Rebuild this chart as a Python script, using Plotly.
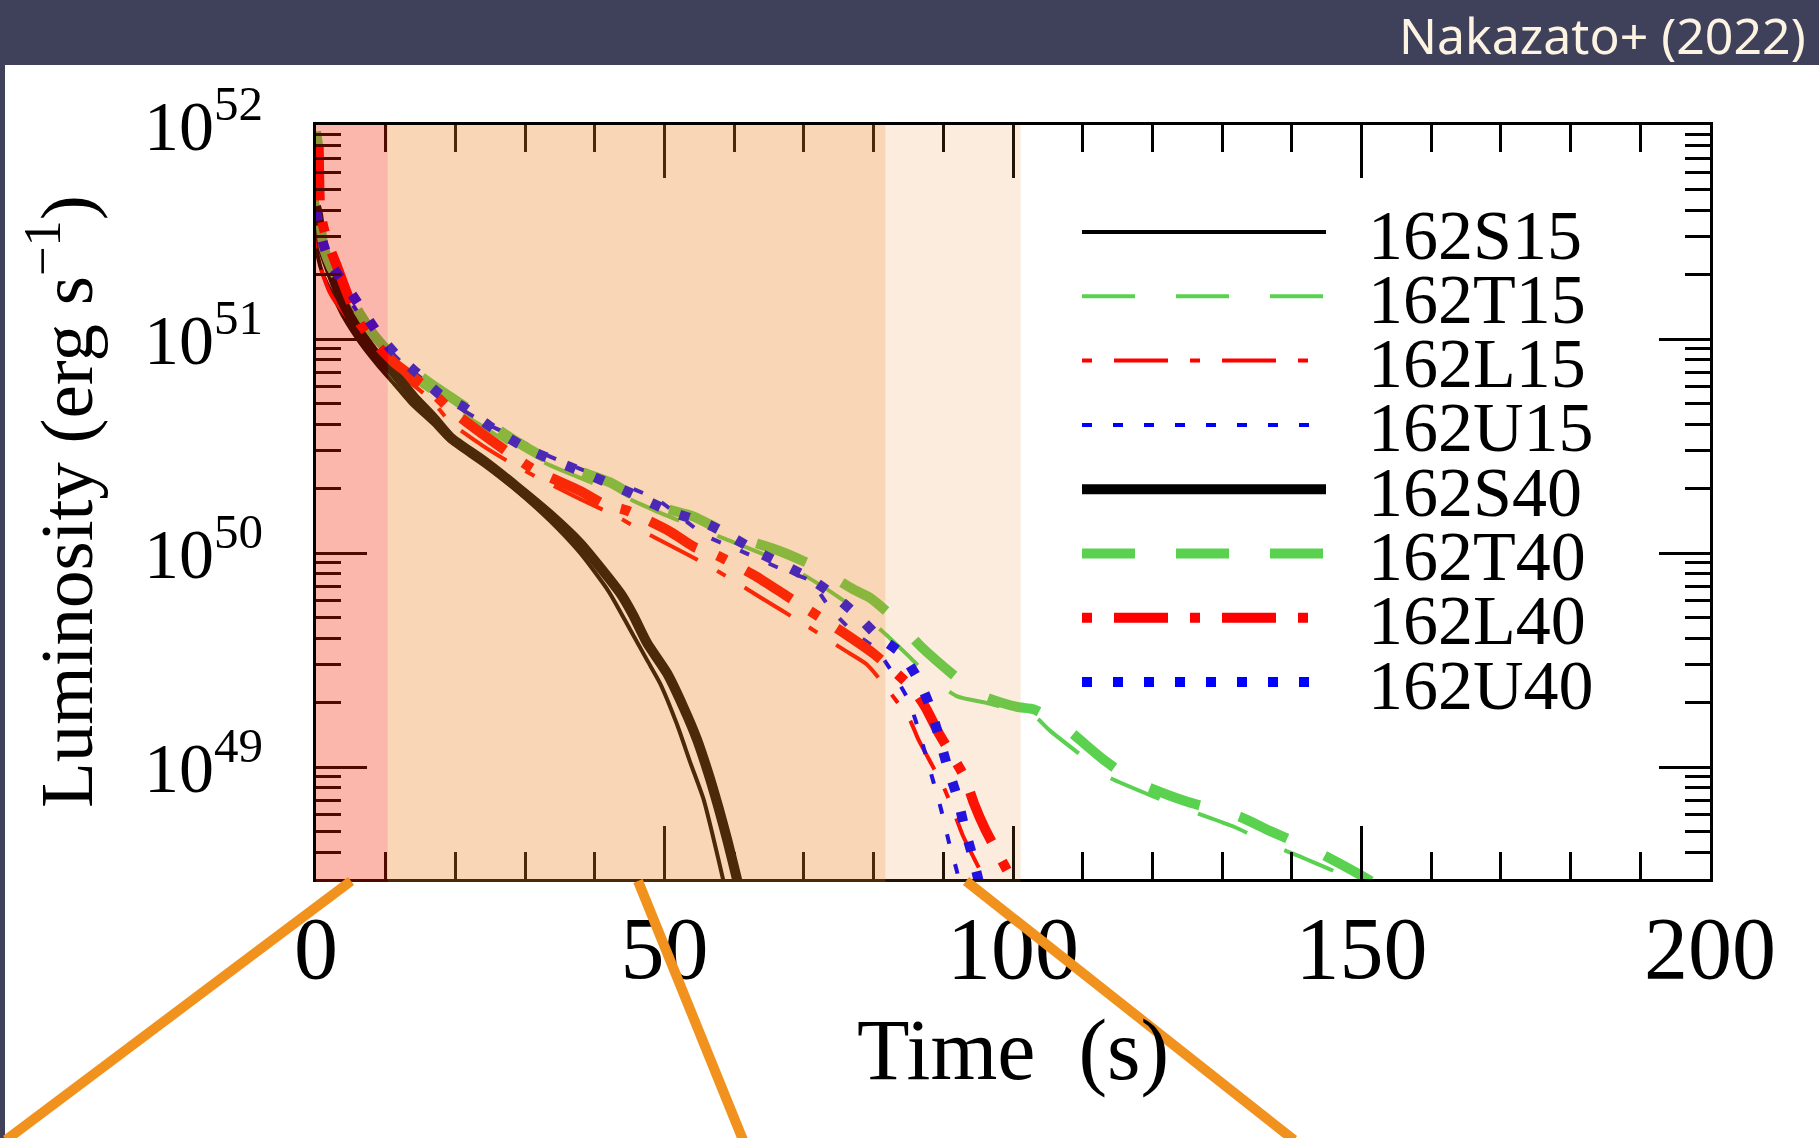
import plotly.graph_objects as go

# ---------------- data ----------------
series_names = ["162S15", "162T15", "162L15", "162U15", "162S40", "162T40", "162L40", "162U40"]

t_S15 = [0.0, 0.3, 1.0, 2.5, 4.0, 6.4, 8.8, 11.2, 13.6, 16.9, 19.3, 24.1, 28.8, 33.6, 37.9, 42.0, 45.1, 47.5, 49.4, 51.8, 53.7, 55.6, 57.0, 58.4, 59.0]
L_S15 = [2.82e51, 2.40e51, 2.00e51, 1.58e51, 1.26e51, 9.55e50, 7.59e50, 6.17e50, 5.01e50, 3.98e50, 3.31e50, 2.57e50, 1.95e50, 1.41e50, 1.00e50, 6.61e49, 4.37e49, 3.16e49, 2.45e49, 1.58e49, 1.05e49, 7.08e48, 4.68e48, 2.99e48, 2.45e48]

t_T15 = [0.0, 0.3, 1.0, 2.5, 4.0, 6.4, 8.8, 11.2, 14.0, 17.0, 20.0, 24.0, 28.8, 33.6, 38.0, 43.0, 48.6, 53.0, 58.5, 65.2, 70.4, 75.6, 81.4, 85.0, 88.1, 92.0, 96.0, 101.0, 103.0, 105.3, 111.1, 113.3, 119.6, 125.1, 131.8, 136.8, 142.0, 148.3, 150.5]
L_T15 = [5.01e51, 3.98e51, 2.82e51, 2.00e51, 1.58e51, 1.17e51, 9.33e50, 7.76e50, 6.46e50, 5.50e50, 4.68e50, 3.89e50, 3.09e50, 2.57e50, 2.24e50, 1.91e50, 1.58e50, 1.38e50, 1.17e50, 9.55e49, 7.76e49, 6.03e49, 4.27e49, 3.31e49, 2.63e49, 2.14e49, 2.00e49, 1.82e49, 1.74e49, 1.48e49, 1.05e49, 9.12e48, 7.41e48, 6.31e48, 5.25e48, 4.37e48, 3.72e48, 3.02e48, 2.69e48]

t_L15 = [0.0, 0.6, 2.1, 4.0, 6.4, 8.8, 12.6, 16.4, 19.3, 24.0, 28.0, 33.1, 38.0, 43.2, 47.0, 53.5, 57.9, 63.9, 69.9, 76.1, 79.0, 81.4, 85.2, 86.4, 90.0, 91.4, 92.8, 95.7, 96.5]
L_L15 = [2.95e51, 2.19e51, 1.62e51, 1.32e51, 1.07e51, 8.51e50, 6.61e50, 5.25e50, 4.07e50, 3.16e50, 2.63e50, 2.14e50, 1.78e50, 1.48e50, 1.26e50, 9.77e49, 8.13e49, 6.17e49, 4.68e49, 3.47e49, 3.02e49, 2.45e49, 1.66e49, 1.35e49, 8.13e48, 6.31e48, 4.79e48, 3.09e48, 2.69e48]

t_U15 = [0.0, 0.3, 1.0, 2.5, 4.5, 6.5, 9.0, 12.0, 15.0, 18.0, 21.0, 24.1, 27.9, 33.0, 38.9, 41.5, 48.9, 56.0, 60.2, 67.1, 70.9, 73.8, 77.1, 80.4, 84.9, 86.0, 88.5, 89.7, 90.8, 91.9, 92.6]
L_U15 = [3.55e51, 3.16e51, 2.63e51, 2.00e51, 1.58e51, 1.26e51, 1.00e51, 7.94e50, 6.61e50, 5.50e50, 4.68e50, 4.07e50, 3.55e50, 2.88e50, 2.40e50, 2.24e50, 1.78e50, 1.20e50, 1.05e50, 8.32e49, 7.41e49, 5.50e49, 4.27e49, 3.55e49, 2.09e49, 1.66e49, 8.71e48, 6.31e48, 4.47e48, 3.31e48, 2.63e48]

t_S40 = [0.0, 0.3, 1.0, 2.5, 4.0, 6.4, 8.8, 11.2, 14.0, 16.9, 19.3, 24.1, 28.8, 33.6, 37.9, 43.7, 45.5, 47.5, 50.35, 52.7, 54.65, 56.3, 57.75, 59.0, 60.4, 61.0]
L_S40 = [4.17e51, 3.80e51, 2.63e51, 1.91e51, 1.45e51, 1.07e51, 8.32e50, 6.92e50, 5.37e50, 4.27e50, 3.47e50, 2.69e50, 2.04e50, 1.51e50, 1.11e50, 6.46e49, 5.13e49, 3.80e49, 2.75e49, 1.91e49, 1.35e49, 9.33e48, 6.46e48, 4.57e48, 2.99e48, 2.45e48]

t_T40 = [0.0, 0.3, 0.6, 1.1, 2.1, 4.0, 5.9, 7.8, 10.2, 13.6, 17.4, 22.5, 28.3, 33.2, 38.0, 42.2, 46.5, 50.0, 54.2, 59.2, 66.6, 71.4, 77.1, 79.5, 82.8, 86.9, 92.6, 95.8, 100.6, 103.0, 107.2, 113.2, 117.7, 124.8, 132.4, 137.0, 143.9, 151.2, 153.0]
L_T40 = [9.33e51, 7.94e51, 3.63e51, 2.69e51, 2.19e51, 1.70e51, 1.38e51, 1.10e51, 8.91e50, 7.24e50, 5.89e50, 4.57e50, 3.39e50, 2.75e50, 2.40e50, 2.14e50, 1.78e50, 1.62e50, 1.48e50, 1.23e50, 1.02e50, 8.71e49, 6.76e49, 6.17e49, 5.01e49, 3.63e49, 2.51e49, 2.14e49, 1.91e49, 1.86e49, 1.55e49, 1.07e49, 8.51e48, 6.92e48, 5.89e48, 5.01e48, 3.98e48, 2.95e48, 2.69e48]

t_L40 = [0.0, 0.3, 0.65, 1.6, 3.0, 4.5, 6.4, 8.8, 11.2, 13.6, 16.4, 19.3, 25.0, 31.3, 37.9, 41.2, 44.6, 50.8, 54.2, 57.5, 63.2, 67.5, 74.2, 80.0, 85.5, 87.4, 89.3, 93.1, 94.4, 96.0, 99.6, 100.5]
L_L40 = [1.12e52, 9.77e51, 3.89e51, 2.88e51, 2.19e51, 1.62e51, 1.17e51, 9.33e50, 7.76e50, 6.76e50, 5.75e50, 4.68e50, 3.39e50, 2.45e50, 1.95e50, 1.70e50, 1.58e50, 1.26e50, 1.07e50, 9.77e49, 7.76e49, 6.31e49, 4.57e49, 3.39e49, 2.34e49, 1.91e49, 1.45e49, 8.91e48, 6.76e48, 5.13e48, 3.09e48, 2.69e48]

t_U40 = [0.0, 0.3, 1.0, 2.1, 4.5, 9.0, 11.4, 14.5, 17.8, 20.8, 25.5, 30.75, 38.9, 45.1, 50.5, 56.5, 63.7, 70.9, 74.4, 77.6, 80.7, 84.0, 86.4, 88.1, 90.7, 92.0, 93.1, 94.3, 95.2]
L_U40 = [3.98e51, 3.55e51, 2.82e51, 2.24e51, 1.74e51, 1.05e51, 8.51e50, 6.92e50, 5.50e50, 4.90e50, 3.80e50, 3.02e50, 2.34e50, 1.91e50, 1.58e50, 1.35e50, 1.00e50, 7.59e49, 6.31e49, 5.13e49, 4.07e49, 3.39e49, 2.57e49, 1.91e49, 9.77e48, 7.24e48, 5.13e48, 3.72e48, 2.82e48]

# shaded phases (s)
phase_edges = [0.0, 10.3, 81.7, 101.1]

x_tick_vals = [0, 50, 100, 150, 200]
x_tick_text = ["0", "50", "100", "150", "200"]
y_tick_vals = [1e49, 1e50, 1e51, 1e52]
y_tick_text = ["10<sup>49</sup>", "10<sup>50</sup>", "10<sup>51</sup>", "10<sup>52</sup>"]

# ---------------- styling ----------------
BLACK, GREEN, RED, BLUE = "#000000", "#5ad250", "#ff0000", "#0000ff"
DASH_T = "53px,41px"
DASH_L = "10px,22px,54px,22px"
DASH_U = "10px,21px"
THIN, THICK = 4, 10
styles = {
    "162S15": dict(color=BLACK, width=THIN, dash="solid"),
    "162T15": dict(color=GREEN, width=THIN, dash=DASH_T),
    "162L15": dict(color=RED, width=THIN, dash=DASH_L),
    "162U15": dict(color=BLUE, width=THIN, dash=DASH_U),
    "162S40": dict(color=BLACK, width=THICK, dash="solid"),
    "162T40": dict(color=GREEN, width=THICK, dash=DASH_T),
    "162L40": dict(color=RED, width=THICK, dash=DASH_L),
    "162U40": dict(color=BLUE, width=THICK, dash=DASH_U),
}
data = {
    "162S15": (t_S15, L_S15), "162T15": (t_T15, L_T15),
    "162L15": (t_L15, L_L15), "162U15": (t_U15, L_U15),
    "162S40": (t_S40, L_S40), "162T40": (t_T40, L_T40),
    "162L40": (t_L40, L_L40), "162U40": (t_U40, L_U40),
}

W, H = 1819, 1138
ML, MR, MT, MB = 316, 109, 125, 259
PW, PH = W - ML - MR, H - MT - MB


def px(x):
    return (x - ML) / PW


def py(y):
    return (H - MB - y) / PH


SERIF = "Liberation Serif"
HEADER = "#3e4159"

fig = go.Figure()
for name in series_names:
    t, L = data[name]
    st = dict(styles[name], shape="spline", smoothing=0.6)
    fig.add_trace(go.Scatter(x=t, y=L, mode="lines", name=name, line=st,
                             showlegend=False, hoverinfo="skip"))

shapes = []
# header band and left strip
shapes.append(dict(type="rect", xref="paper", yref="paper", x0=px(0), x1=px(W), y0=py(0), y1=py(65),
                   fillcolor=HEADER, line=dict(width=0), layer="above"))
shapes.append(dict(type="rect", xref="paper", yref="paper", x0=px(0), x1=px(5), y0=py(65), y1=py(H),
                   fillcolor=HEADER, line=dict(width=0), layer="above"))
# phase shading (overlay on top of curves)
shade = [("rgb(245,30,0)", 0.32), ("rgb(236,127,24)", 0.32), ("rgb(236,127,24)", 0.15)]
for i, (c, a) in enumerate(shade):
    x0 = phase_edges[i] - (0.25 if i == 0 else 0)
    shapes.append(dict(type="rect", xref="x", yref="paper", x0=x0, x1=phase_edges[i + 1],
                       y0=py(882), y1=1.0, fillcolor=c, opacity=a, line=dict(width=0), layer="above"))
# orange zoom lines
ORANGE = "#f0921d"
for (xa, ya, xb, yb) in [(351, 881, 6, 1140), (638, 881, 743, 1140), (966, 881, 1294, 1140)]:
    shapes.append(dict(type="line", xref="paper", yref="paper", x0=px(xa), y0=py(ya), x1=px(xb), y1=py(yb),
                       line=dict(color=ORANGE, width=10), layer="above"))

annotations = []
# legend
row_y0, row_dy = 232, 64.3
for i, name in enumerate(series_names):
    yy = row_y0 + i * row_dy
    st = styles[name]
    shapes.append(dict(type="line", xref="paper", yref="paper", x0=px(1082), x1=px(1326), y0=py(yy), y1=py(yy),
                       line=dict(color=st["color"], width=st["width"], dash=st["dash"]), layer="above"))
    annotations.append(dict(text=name, xref="paper", yref="paper", x=px(1366), y=py(yy + 3),
                            xanchor="left", yanchor="middle", showarrow=False,
                            font=dict(family=SERIF, size=70, color="black")))

# title and axis titles
annotations.append(dict(text="Nakazato+ (2022)", xref="paper", yref="paper", x=px(1808), y=py(35),
                        xanchor="right", yanchor="middle", showarrow=False,
                        font=dict(family="Noto Sans", size=50, color="#fdf3e2")))
annotations.append(dict(text="Time&nbsp;&nbsp;(s)", xref="paper", yref="paper", x=0.5, y=py(1050),
                        xanchor="center", yanchor="middle", showarrow=False,
                        font=dict(family=SERIF, size=86, color="black")))
annotations.append(dict(text="Luminosity (erg s<sup>−1</sup>)", xref="paper", yref="paper", x=px(60), y=0.5,
                        xanchor="center", yanchor="middle", textangle=-90, showarrow=False,
                        font=dict(family=SERIF, size=75, color="black")))

x_minor = [v for v in range(10, 200, 10) if v % 50 != 0]
y_minor = [k * 10.0 ** n for n in range(48, 52) for k in range(2, 10)]

fig.update_layout(
    width=W, height=H,
    margin=dict(l=ML, r=MR, t=MT, b=MB, pad=0),
    paper_bgcolor="white", plot_bgcolor="white",
    showlegend=False,
    shapes=shapes, annotations=annotations,
    xaxis=dict(range=[0, 200], tickvals=x_tick_vals, ticktext=x_tick_text,
               ticks="inside", ticklen=53, tickwidth=2.5, tickcolor="black",
               showline=True, linecolor="black", linewidth=3, mirror="ticks",
               showgrid=False, zeroline=False, ticklabelstandoff=-10,
               tickfont=dict(family=SERIF, size=88, color="black"),
               minor=dict(ticks="inside", ticklen=27, tickwidth=2.5, tickcolor="black",
                          tickvals=x_minor, showgrid=False)),
    xaxis2=dict(overlaying="x", anchor="y", side="bottom", range=[0, 200], tickvals=x_minor,
                ticks="outside", ticklen=10, tickwidth=2.5, tickcolor="black",
                showticklabels=False, showline=False, showgrid=False, zeroline=False),
    yaxis=dict(type="log", range=[48.4771, 52.0], tickvals=y_tick_vals, ticktext=y_tick_text,
               ticks="inside", ticklen=51, tickwidth=2.5, tickcolor="black",
               showline=True, linecolor="black", linewidth=3, mirror="ticks",
               showgrid=False, zeroline=False, ticklabelstandoff=36,
               tickfont=dict(family=SERIF, size=70, color="black"),
               minor=dict(ticks="inside", ticklen=25, tickwidth=2.5, tickcolor="black",
                          tickvals=y_minor, showgrid=False)),
)

fig.write_html("out.html", config={"displayModeBar": False},
               post_script="document.body.style.margin='0';document.body.style.overflow='hidden';")
